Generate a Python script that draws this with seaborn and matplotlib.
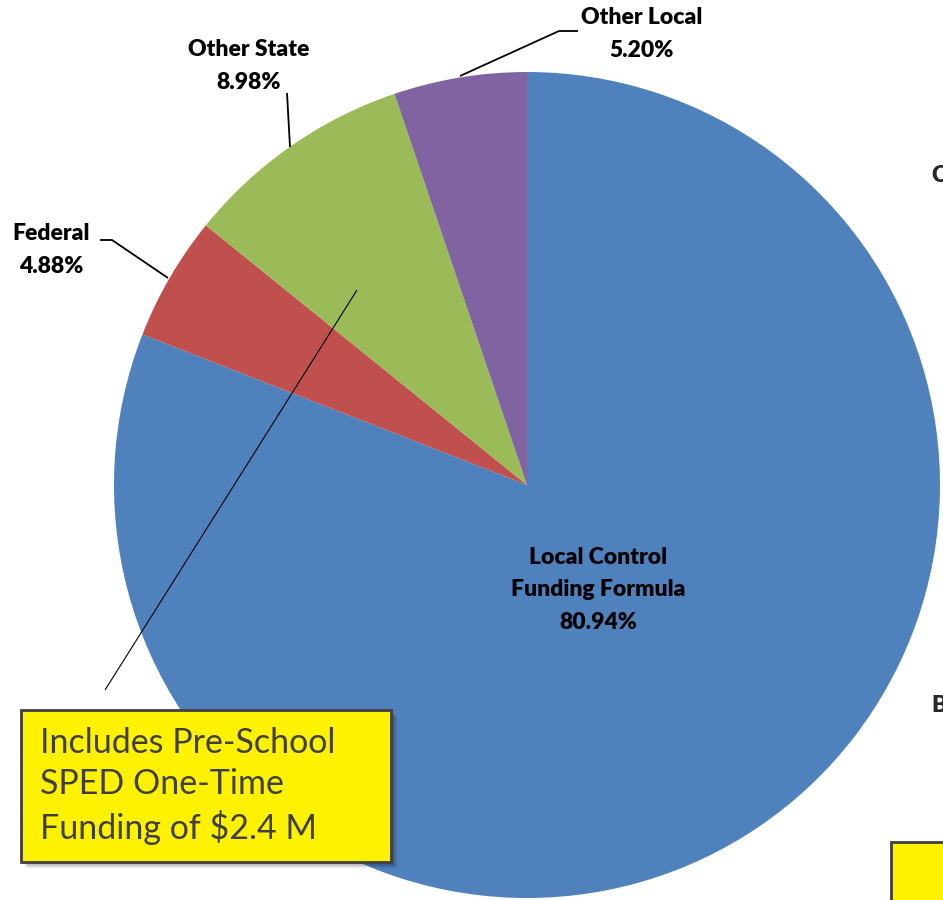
import matplotlib
matplotlib.use("Agg")
import matplotlib.pyplot as plt
import seaborn as sns
from matplotlib.patches import Rectangle

categories = ["Local Control\nFunding Formula", "Federal", "Other State", "Other Local"]
values = [80.94, 4.88, 8.98, 5.20]
pct_labels = ["80.94%", "4.88%", "8.98%", "5.20%"]
colors = ["#4F81BD", "#C0504D", "#9BBB59", "#8064A2"]
note_text = "Includes Pre-School\nSPED One-Time\nFunding of $2.4 M"

sns.set_theme(style="white")
plt.rcParams['font.family'] = ['Lato', 'DejaVu Sans']

W, H = 943, 900
CX, CY, R = 527, 485, 413

fig = plt.figure(figsize=(W / 100, H / 100), dpi=100)
ax = fig.add_axes([0, 0, 1, 1])

ax.pie(values, colors=sns.color_palette(colors), startangle=90, counterclock=False,
       radius=1, center=(0, 0), wedgeprops=dict(linewidth=0))

ax.set_xlim(-CX / R, (W - CX) / R)
ax.set_ylim(-(H - CY) / R, CY / R)
ax.set_aspect('equal')
ax.axis('off')

def P(px, py):
    return ((px - CX) / R, (CY - py) / R)

lab = dict(fontsize=16.5, fontweight='heavy', color='black', ha='center', va='center', linespacing=1.68)
# LCFF inside label
ax.text(*P(598, 590), categories[0] + "\n" + pct_labels[0], **lab)
# Federal
ax.text(*P(51, 250), categories[1] + "\n" + pct_labels[1], **lab)
# Other State
ax.text(*P(249, 66), categories[2] + "\n" + pct_labels[2], **lab)
# Other Local
ax.text(*P(642, 34), categories[3] + "\n" + pct_labels[3], **lab)

def line(pts, lw=1.3):
    xs, ys = zip(*[P(x, y) for x, y in pts])
    ax.plot(xs, ys, color='black', lw=lw, solid_capstyle='butt')

line([(100, 240), (112, 240), (168, 278)])
line([(287, 93), (290, 147)])
line([(578, 31), (559, 31), (460, 76)])
# note pointer
line([(357, 290), (105, 690)], lw=0.8)

# texts of a neighbouring chart, cut off at the right edge as in the reference
ax.text(*P(931, 176), "C", fontsize=16.5, fontweight='heavy', ha='left', va='center', clip_on=False)
ax.text(*P(931, 706), "B", fontsize=16.5, fontweight='heavy', ha='left', va='center', clip_on=False)

def rect(x0, y0, x1, y1, shadow=True):
    (ax0, ay1), (ax1, ay0) = P(x0, y0), P(x1, y1)
    if shadow:
        for i, a in enumerate([0.10, 0.15, 0.22]):
            off = (6 - 2 * i) / R
            ax.add_patch(Rectangle((ax0 + off, ay0 - off), ax1 - ax0, ay1 - ay0,
                                   facecolor='black', alpha=a, edgecolor='none', zorder=4))
    ax.add_patch(Rectangle((ax0, ay0), ax1 - ax0, ay1 - ay0, facecolor='#FFF200',
                           edgecolor='#404040', lw=2, zorder=5))

rect(21, 710, 391, 862)
ax.text(*P(40, 786), note_text, fontsize=24.5, color='#3F3F3F', ha='left', va='center',
        linespacing=1.34, zorder=6)
rect(891, 842, 960, 920, shadow=False)

fig.savefig("out.png", dpi=100)
